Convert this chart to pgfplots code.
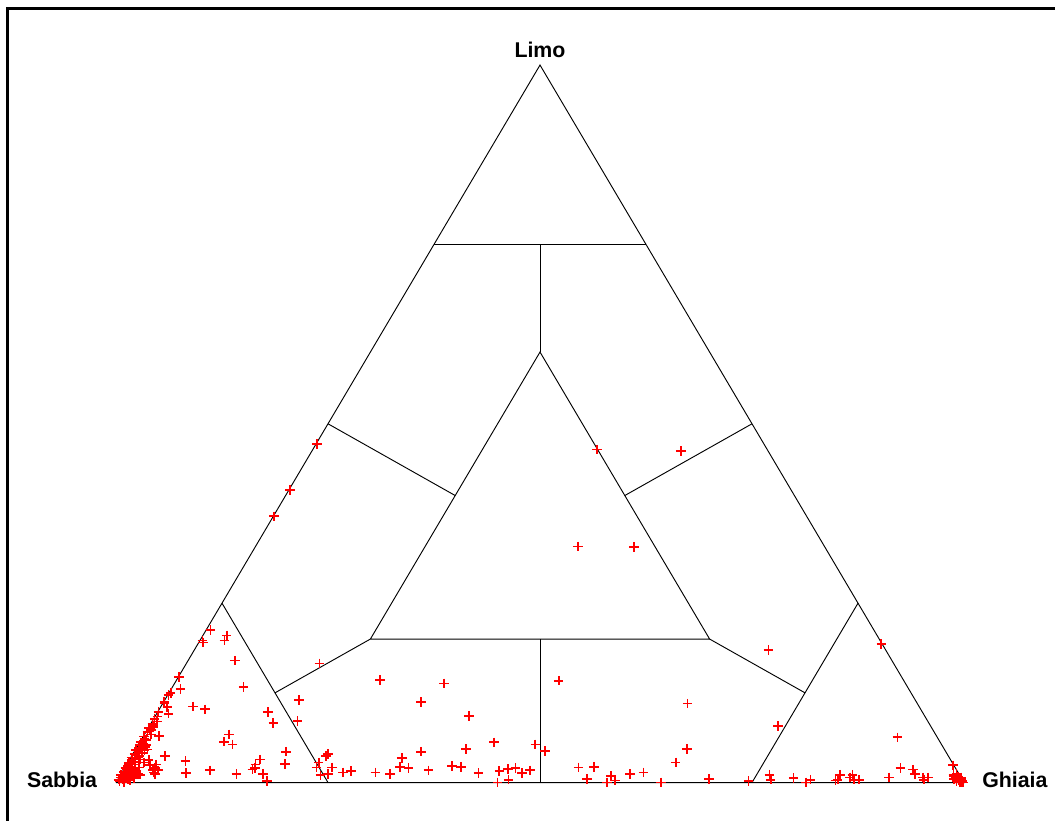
\documentclass[border=0pt]{standalone}
\usepackage{pgfplots}
\pgfplotsset{compat=1.18}
\usepackage{pgfplotstable}
\usepackage{fontspec}
\setmainfont{Liberation Sans}

% Samples: G = ghiaia (%), L = limo (%); sabbia = 100 - G - L
\pgfplotstableread{
G L
0.1 47.2
0.1 40.8
0.1 37.1
33.5 46.4
43.5 46.2
38.0 32.9
44.7 32.8
67.7 18.5
80.6 19.3
74.1 7.9
89.0 6.3
97.5 2.4
24.0 14.3
31.8 13.8
30.4 11.2
37.0 9.3
33.8 4.3
36.0 1.7
38.5 2.3
39.6 2.2
38.9 4.7
42.1 1.3
41.8 5.6
44.4 1.6
45.3 1.9
46.1 2.0
47.2 1.3
48.0 1.7
45.0 0.0
46.1 0.4
46.8 5.3
48.4 4.4
45.1 14.2
53.5 2.1
55.3 0.5
55.3 2.2
57.9 0.9
57.9 0.0
58.7 0.3
60.0 1.2
61.5 1.4
64.3 0.0
64.6 2.8
61.9 11.0
65.0 4.7
69.7 0.5
24.4 2.1
26.1 1.4
26.9 1.6
29.9 1.4
31.7 1.2
32.0 3.4
32.4 2.2
33.5 2.0
0.5 21.3
0.3 19.8
0.5 19.5
2.8 20.5
2.9 19.8
5.5 17.0
8.4 13.3
0.1 14.7
1.1 13.0
0.2 12.5
0.1 12.2
0.1 11.2
0.8 10.5
1.4 9.6
0.1 9.8
3.8 10.6
5.4 10.2
13.0 9.8
14.4 8.3
15.7 16.6
15.8 11.5
17.1 8.6
10.0 6.7
9.9 5.7
11.1 5.3
1.8 6.5
3.9 3.7
6.7 3.0
7.6 1.3
10.2 1.7
13.6 1.2
15.4 3.2
15.2 2.5
15.4 2.0
15.2 1.8
16.7 1.2
17.7 0.2
17.9 4.3
18.6 2.6
22.5 2.8
23.0 4.0
22.9 3.7
22.6 2.1
23.6 1.0
24.4 1.2
0.2 11.0
1.0 5.2
1.1 4.5
0.5 4.9
2.3 3.1
2.8 2.4
3.6 2.0
4.0 1.2
3.5 1.7
1.9 2.8
1.7 2.1
2.3 1.1
1.8 0.7
0.2 4.0
3.5 2.5
4.1 1.7
1.4 4.6
0.3 7.5
0.5 7.7
3.8 1.4
2.0 1.2
0.3 0.2
0.1 0.4
0.6 0.5
0.2 0.7
0.9 0.8
0.4 1.0
0.0 1.1
1.1 1.2
0.6 1.3
0.2 1.5
0.9 1.6
0.4 1.8
1.3 1.9
0.1 2.0
0.7 2.2
0.3 2.3
1.0 2.5
0.5 2.6
0.1 2.8
0.8 2.9
0.3 3.1
1.2 3.2
0.6 3.4
0.1 3.5
0.9 3.7
0.4 3.8
0.2 4.0
1.0 4.1
0.5 4.3
0.1 4.5
0.7 4.7
0.3 4.8
0.9 5.0
0.2 5.2
0.5 5.4
0.1 5.6
0.6 5.9
0.3 6.1
0.1 6.4
0.8 6.7
0.2 7.0
0.5 7.3
0.1 7.6
0.4 7.9
0.2 8.2
0.6 8.5
0.1 8.9
0.3 9.2
1.5 0.3
1.8 0.6
1.4 0.9
1.7 1.4
0.9 0.1
1.2 0.5
74.5 0.2
76.5 1.1
77.0 0.4
79.6 0.6
81.4 0.0
81.7 0.4
84.9 0.4
84.8 1.1
84.7 0.3
86.3 1.1
86.8 0.4
87.4 0.4
86.2 0.7
90.8 0.7
91.5 2.0
93.1 1.8
93.6 1.2
94.8 0.7
95.4 0.7
95.1 0.4
99.7 0.1
99.2 0.3
99.4 0.5
98.7 0.6
98.9 0.8
98.6 1.0
98.5 1.2
99.0 0.2
98.9 0.4
98.3 0.9
99.5 0.0
99.3 0.7
99.6 0.3
98.2 1.1
98.6 0.5
99.9 0.0
99.1 0.6
}\soil

\begin{document}
\begin{tikzpicture}
\useasboundingbox (0,0) rectangle (791.25pt,615pt);
% outer frame (left and top edges)
\draw[line width=1.6pt] (5.6pt,-10pt) |- (810pt,608.6pt);
\begin{axis}[
  at={(87pt,28.1pt)}, anchor=south west,
  width=636pt, height=538.1pt, scale only axis,
  xmin=0, xmax=100, ymin=0, ymax=100,
  hide axis, clip=false,
]
% texture classes: x = ghiaia + limo/2, y = limo
\addplot[black, line width=0.7pt] coordinates {(0,0) (100,0) (50,100) (0,0)};
\addplot[black, line width=0.7pt] coordinates {(37.5,75) (62.5,75)};
\addplot[black, line width=0.7pt] coordinates {(50,60) (50,75)};
\addplot[black, line width=0.7pt] coordinates {(30,20) (70,20) (50,60) (30,20)};
\addplot[black, line width=0.7pt] coordinates {(50,0) (50,20)};
\addplot[black, line width=0.7pt] coordinates {(12.5,25) (25,0)};
\addplot[black, line width=0.7pt] coordinates {(87.5,25) (75,0)};
\addplot[black, line width=0.7pt] coordinates {(30,20) (18.75,12.5)};
\addplot[black, line width=0.7pt] coordinates {(70,20) (81.25,12.5)};
\addplot[black, line width=0.7pt] coordinates {(25,50) (40,40)};
\addplot[black, line width=0.7pt] coordinates {(75,50) (60,40)};
% samples
\addplot[only marks, mark=+, color=red, mark size=3.6pt, line width=1.3pt]
  table[x expr=\thisrow{G}+0.5*\thisrow{L}, y=L] {\soil};
% vertex labels
\node[anchor=base, inner sep=0pt, yshift=5.6pt, font=\fontsize{16}{19}\selectfont\bfseries] at (axis cs:50,100) {Limo};
\node[anchor=base east, inner sep=0pt, xshift=-14pt, yshift=-3.4pt, font=\fontsize{16}{19}\selectfont\bfseries] at (axis cs:0,0) {Sabbia};
\node[anchor=base west, inner sep=0pt, xshift=13.5pt, yshift=-3.4pt, font=\fontsize{16}{19}\selectfont\bfseries] at (axis cs:100,0) {Ghiaia};
\end{axis}
\end{tikzpicture}
\end{document}
